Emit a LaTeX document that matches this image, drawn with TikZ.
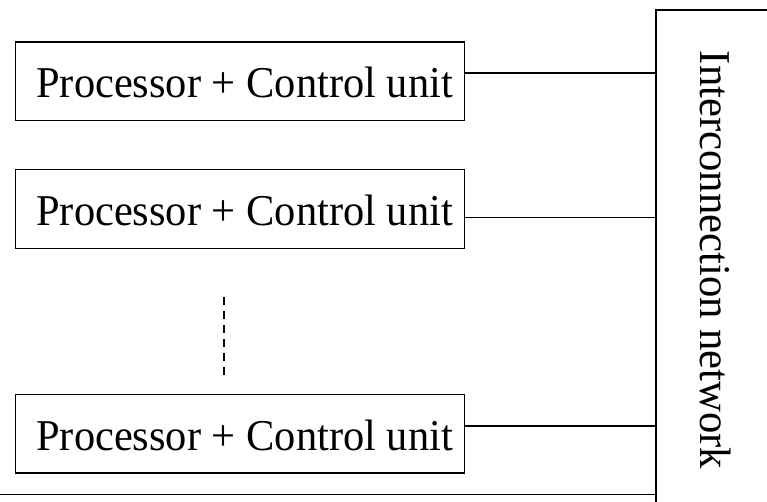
\documentclass[tikz,border=0pt]{standalone}
\usepackage{fontspec}
\setmainfont{Liberation Serif}
\begin{document}
\begin{tikzpicture}[x=1pt,y=-1pt,
  line width=1.6pt,
  unitbox/.style={draw, inner sep=0pt, minimum width=449pt, minimum height=78.7pt},
  unitlabel/.style={inner sep=0pt, font=\fontsize{44}{50}\selectfont},
  netbox/.style={draw, inner sep=0pt, minimum width=120pt, minimum height=500pt,
    font=\fontsize{44}{50}\selectfont},
  link/.style={line width=1.6pt},
  dots/.style={line width=1.6pt, dash pattern=on 7.3pt off 6.7pt}]
\useasboundingbox (0,0) rectangle (767,501);

% processing elements
\node[unitbox] (p1) at (239.8,81.3) {};
\node[unitbox] (p2) at (239.8,209.0) {};
\node[unitbox] (p3) at (239.8,433.7) {};
\node[unitlabel] (t1) at ([xshift=4.8pt,yshift=-1.4pt]p1.center) {\scalebox{0.965}[1]{Processor + Control unit}};
\node[unitlabel] (t2) at ([xshift=4.8pt,yshift=-1.4pt]p2.center) {\scalebox{0.965}[1]{Processor + Control unit}};
\node[unitlabel] (t3) at ([xshift=4.8pt,yshift=-1.4pt]p3.center) {\scalebox{0.965}[1]{Processor + Control unit}};

% interconnection network, running off the right and bottom edges
\node[netbox] (net) at (715.7,260) {\rotatebox{-90}{\scalebox{0.97}[1]{Interconnection network}}};

% links from each unit to the network
\draw[link] ([yshift=8.6pt]p1.east) -- ([yshift=8.6pt]p1.east -| net.west);
\draw[link] ([yshift=-8.3pt]p2.east) -- ([yshift=-8.3pt]p2.east -| net.west);
\draw[link] ([yshift=7.7pt]p3.east) -- ([yshift=7.7pt]p3.east -| net.west);

% ellipsis between the units
\coordinate (d1) at (223.7,297.3);
\coordinate (d2) at (223.7,375);
\draw[dots] (d1) -- (d2);

% bottom rule
\coordinate (b0) at (0,494.3);
\draw[link] (b0) -- (b0 -| net.west);
\end{tikzpicture}
\end{document}
